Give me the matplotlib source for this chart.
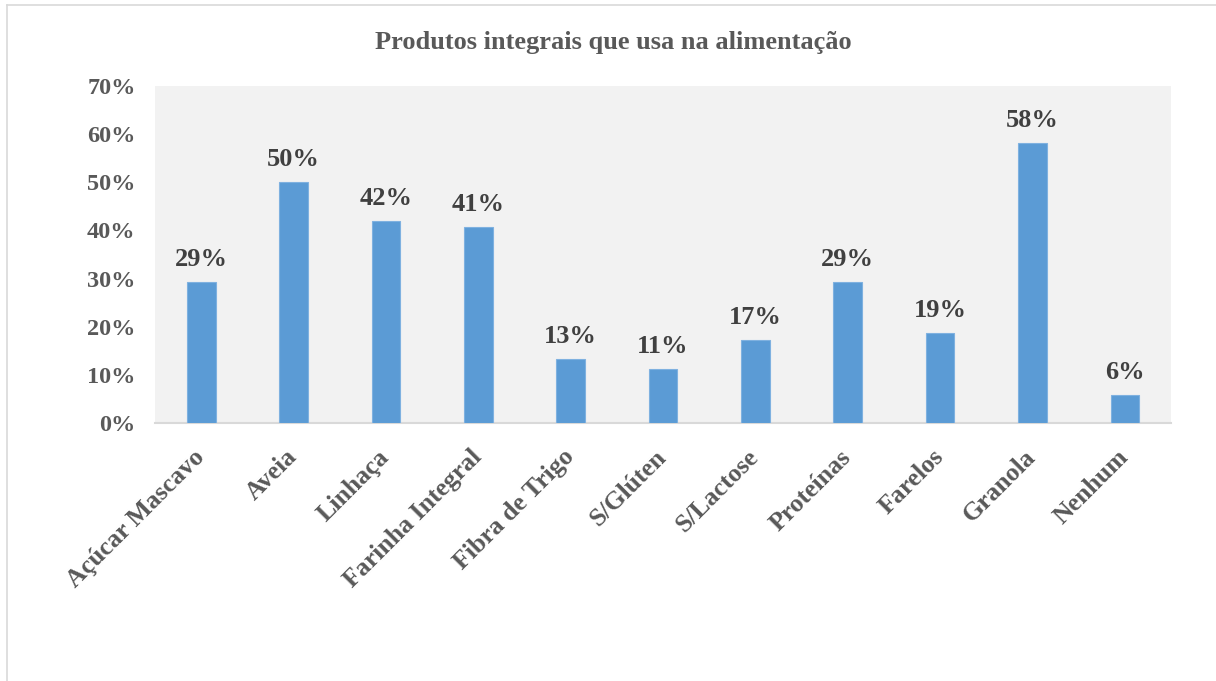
import matplotlib
matplotlib.use("Agg")
import matplotlib.pyplot as plt
from matplotlib.lines import Line2D
from matplotlib.ticker import PercentFormatter

categories = ["Açúcar Mascavo", "Aveia", "Linhaça", "Farinha Integral", "Fibra de Trigo",
              "S/Glúten", "S/Lactose", "Proteínas", "Farelos", "Granola", "Nenhum"]
values = [29.3, 50.1, 42.0, 40.7, 13.3, 11.2, 17.3, 29.3, 18.7, 58.2, 5.9]
labels = ["29%", "50%", "42%", "41%", "13%", "11%", "17%", "29%", "19%", "58%", "6%"]
yticks = [0, 10, 20, 30, 40, 50, 60, 70]
title = "Produtos integrais que usa na alimentação"

plt.rcParams['font.family'] = ['Liberation Serif', 'DejaVu Serif']
plt.rcParams['font.weight'] = 'bold'

fig = plt.figure(figsize=(12.16, 6.81), dpi=100)
fig.patch.set_facecolor('white')
ax = fig.add_axes([0.1275, 0.379, 0.8355, 0.4947])
ax.set_facecolor('#F2F2F2')

x = list(range(len(categories)))
ax.bar(x, values, width=0.31, color='#5B9BD5', edgecolor='#7FB1E0', linewidth=0.8, zorder=3)
for xi, v, lab in zip(x, values, labels):
    ax.text(xi, v + 2.2, lab, ha='center', va='bottom', fontsize=19,
            fontweight='bold', color='#404040')

ax.set_xlim(-0.5, len(categories) - 0.5)
ax.set_ylim(0, 70)
ax.set_yticks(yticks)
ax.yaxis.set_major_formatter(PercentFormatter(decimals=0))
ax.tick_params(axis='y', length=0, pad=14, labelsize=17.5, labelcolor='#595959')
ax.tick_params(axis='x', length=0, pad=22)
ax.set_xticks(x)
ax.set_xticklabels(categories, rotation=45, ha='right', va='center', rotation_mode='anchor',
                   fontsize=18.5, color='#595959', fontweight='bold')
for lab in ax.get_yticklabels():
    lab.set_fontweight('bold')

for s in ['top', 'right', 'left']:
    ax.spines[s].set_visible(False)
ax.spines['bottom'].set_color('#D9D9D9')
ax.spines['bottom'].set_linewidth(1.5)

fig.text(0.504, 0.937, title, ha='center', va='center', fontsize=19,
         fontweight='bold', color='#595959')

# outer chart border (only top and left visible in the reference crop)
fig.add_artist(Line2D([7/1216, 1.0], [1 - 5/681, 1 - 5/681], transform=fig.transFigure,
                      color='#D9D9D9', linewidth=1.2))
fig.add_artist(Line2D([7/1216, 7/1216], [0.0, 1 - 5/681], transform=fig.transFigure,
                      color='#D9D9D9', linewidth=1.2))

fig.savefig('out.png', dpi=100, facecolor='white')
